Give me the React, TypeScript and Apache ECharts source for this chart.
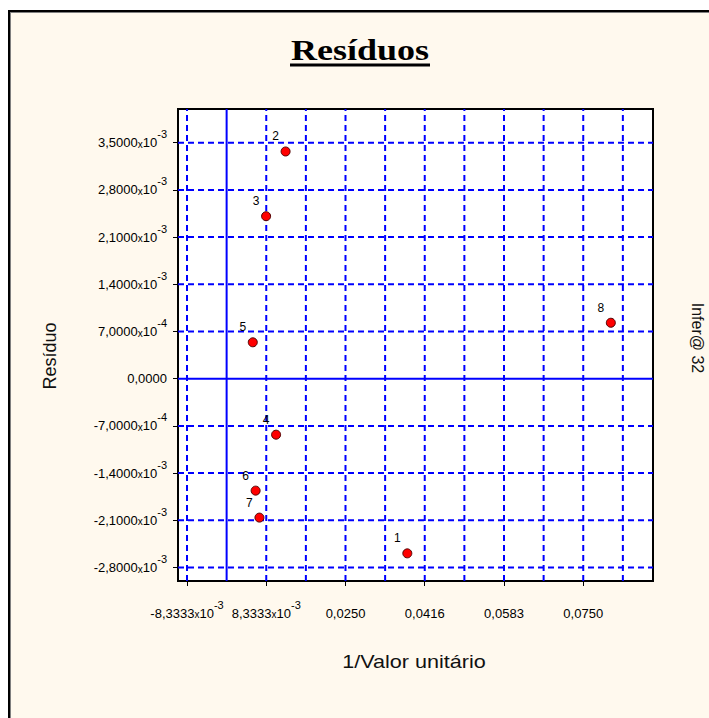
import React, { useEffect, useRef } from 'react';
import * as echarts from 'echarts';

// ---- data ----
const pointNames = ['1', '2', '3', '4', '5', '6', '7', '8'];
const xValues = [0.0380, 0.0124, 0.0083, 0.0104, 0.0055, 0.0061, 0.0069, 0.0808];
const yValues = [-0.00259, 0.00337, 0.00241, -0.00083, 0.00054, -0.00166, -0.00206, 0.00083];

// x axis ticks / labels
const xTicks = [-0.0083333, 0.0083333, 0.025, 0.0416667, 0.0583333, 0.075];
const xTickMantissa = ['-8,3333', '8,3333', '0,0250', '0,0416', '0,0583', '0,0750'];
const xTickExp = ['-3', '-3', '', '', '', ''];
const xGrid = [-0.0083333, 0.0083333, 0.0166667, 0.025, 0.0333333, 0.0416667, 0.05, 0.0583333, 0.0666667, 0.075, 0.0833333];

// y axis ticks / labels
const yTicks = [-0.0028, -0.0021, -0.0014, -0.0007, 0, 0.0007, 0.0014, 0.0021, 0.0028, 0.0035];
const yTickMantissa = ['-2,8000', '-2,1000', '-1,4000', '-7,0000', '0,0000', '7,0000', '1,4000', '2,1000', '2,8000', '3,5000'];
const yTickExp = ['-3', '-3', '-3', '-4', '', '-4', '-3', '-3', '-3', '-3'];
const yGrid = [-0.0028, -0.0021, -0.0014, -0.0007, 0.0007, 0.0014, 0.0021, 0.0028, 0.0035];

const xMin = -0.010227;
const xMax = 0.08967;
const yMin = -0.003;
const yMax = 0.004;

const FONT = '"Liberation Sans", Arial, sans-serif';

const rich = {
  m: { fontSize: 13, fontFamily: FONT, color: '#000', lineHeight: 28 },
  x: { fontSize: 10, fontFamily: FONT, color: '#000', lineHeight: 25, padding: [3, 0, 0, 0] },
  t: { fontSize: 13, fontFamily: FONT, color: '#000', lineHeight: 28 },
  e: { fontSize: 11, fontFamily: FONT, color: '#000', lineHeight: 11, padding: [0, 0, 17, 0], verticalAlign: 'top' },
};

function makeFormatter(ticks: number[], mant: string[], exp: string[]) {
  return (v: number) => {
    const i = ticks.findIndex((t) => Math.abs(t - v) < 1e-7);
    if (i < 0) return '';
    if (exp[i]) return `{m|${mant[i]}}{x|x}{t|10}{e|${exp[i]}}`;
    return `{m|${mant[i]}}`;
  };
}

export default function App() {
  const ref = useRef<HTMLDivElement>(null);

  useEffect(() => {
    const chart = echarts.init(ref.current!, null, { renderer: 'svg' });
    const points = xValues.map((x, i) => [x, yValues[i]]);
    const blue = '#0000ff';

    // grid lines drawn through the axes' scales (custom series)
    const vLines = [...xGrid.map((v) => [v, 0]), [0, 1]];
    const hLines = [...yGrid.map((v) => [v, 0]), [0, 1]];

    const option: any = {
      animation: false,
      backgroundColor: 'transparent',
      grid: {
        left: 178,
        top: 109,
        width: 475,
        height: 472,
        show: true,
        backgroundColor: '#ffffff',
        borderColor: '#000',
        borderWidth: 2,
        containLabel: false,
      },
      xAxis: {
        type: 'value',
        min: xMin,
        max: xMax,
        axisLine: { show: true, onZero: false, lineStyle: { color: '#000', width: 2 } },
        axisTick: { show: true, customValues: xTicks, length: 5, inside: false, lineStyle: { color: '#000', width: 1 } },
        axisLabel: {
          show: true,
          customValues: xTicks,
          margin: 18,
          formatter: makeFormatter(xTicks, xTickMantissa, xTickExp),
          rich,
        },
        splitLine: { show: false },
      },
      yAxis: {
        type: 'value',
        min: yMin,
        max: yMax,
        axisLine: { show: true, onZero: false, lineStyle: { color: '#000', width: 2 } },
        axisTick: { show: true, customValues: yTicks, length: 5, inside: false, lineStyle: { color: '#000', width: 1 } },
        axisLabel: {
          show: true,
          customValues: yTicks,
          margin: 11,
          formatter: makeFormatter(yTicks, yTickMantissa, yTickExp),
          rich,
        },
        splitLine: { show: false },
      },
      graphic: [
        {
          type: 'text',
          x: 360,
          y: 50,
          scaleX: 1.2,
          style: {
            text: 'Resíduos',
            fontFamily: '"Liberation Serif", "Times New Roman", serif',
            fontWeight: 'bold',
            fontSize: 30,
            fill: '#000',
            textAlign: 'center',
            textVerticalAlign: 'middle',
            align: 'center',
            verticalAlign: 'middle',
          },
        },
        {
          type: 'rect',
          shape: { x: 290, y: 63.5, width: 140, height: 3 },
          style: { fill: '#000' },
        },
        {
          type: 'text',
          x: 50,
          y: 356,
          rotation: Math.PI / 2,
          style: {
            text: 'Resíduo',
            fontFamily: FONT,
            fontSize: 18,
            fill: '#111',
            textAlign: 'center',
            textVerticalAlign: 'middle',
            align: 'center',
            verticalAlign: 'middle',
          },
        },
        {
          type: 'text',
          x: 414,
          y: 662,
          scaleX: 1.2,
          style: {
            text: '1/Valor unitário',
            fontFamily: FONT,
            fontSize: 18,
            fill: '#111',
            textAlign: 'center',
            textVerticalAlign: 'middle',
            align: 'center',
            verticalAlign: 'middle',
          },
        },
        {
          type: 'text',
          x: 697,
          y: 338,
          rotation: -Math.PI / 2,
          style: {
            text: 'Infer@ 32',
            fontFamily: FONT,
            fontSize: 16,
            fill: '#111',
            textAlign: 'center',
            textVerticalAlign: 'middle',
            align: 'center',
            verticalAlign: 'middle',
          },
        },
      ],
      series: [
        {
          type: 'custom',
          z: 1,
          silent: true,
          clip: true,
          data: vLines,
          renderItem: (params: any, api: any) => {
            const v = api.value(0);
            const isZero = api.value(1) === 1;
            const p1 = api.coord([v, yMin]);
            const p2 = api.coord([v, yMax]);
            return {
              type: 'line',
              shape: { x1: p1[0], y1: p1[1], x2: p2[0], y2: p2[1] },
              style: isZero
                ? { stroke: blue, lineWidth: 2 }
                : { stroke: blue, lineWidth: 2, lineDash: [6, 4] },
            };
          },
        },
        {
          type: 'custom',
          z: 1,
          silent: true,
          clip: true,
          data: hLines,
          encode: { x: -1, y: 0 },
          renderItem: (params: any, api: any) => {
            const v = api.value(0);
            const isZero = api.value(1) === 1;
            const p1 = api.coord([xMin, v]);
            const p2 = api.coord([xMax, v]);
            return {
              type: 'line',
              shape: { x1: p1[0], y1: p1[1], x2: p2[0], y2: p2[1] },
              style: isZero
                ? { stroke: blue, lineWidth: 2 }
                : { stroke: blue, lineWidth: 2, lineDash: [6, 4] },
            };
          },
        },
        {
          type: 'scatter',
          z: 5,
          data: points,
          symbol: 'circle',
          symbolSize: 9,
          itemStyle: { color: '#ff0000', borderColor: '#500000', borderWidth: 1, opacity: 1 },
          label: {
            show: true,
            position: 'inside',
            offset: [-10, -15],
            formatter: (p: any) => pointNames[p.dataIndex],
            fontSize: 12,
            fontFamily: FONT,
            color: '#000',
          },
        },
      ],
    };

    chart.setOption(option);
    return () => chart.dispose();
  }, []);

  return (
    <div style={{ position: 'fixed', left: 0, top: 0, width: 709, height: 718, background: '#fff', overflow: 'hidden' }}>
      <div
        style={{
          position: 'absolute',
          left: 8,
          top: 10,
          width: 760,
          height: 760,
          background: '#FFF9EE',
          border: '2px solid #000',
          boxSizing: 'border-box',
          boxShadow: 'inset 1px 1px 0 #808080',
        }}
      />
      <div ref={ref} style={{ position: 'absolute', left: 0, top: 0, width: 709, height: 718 }} />
    </div>
  );
}
